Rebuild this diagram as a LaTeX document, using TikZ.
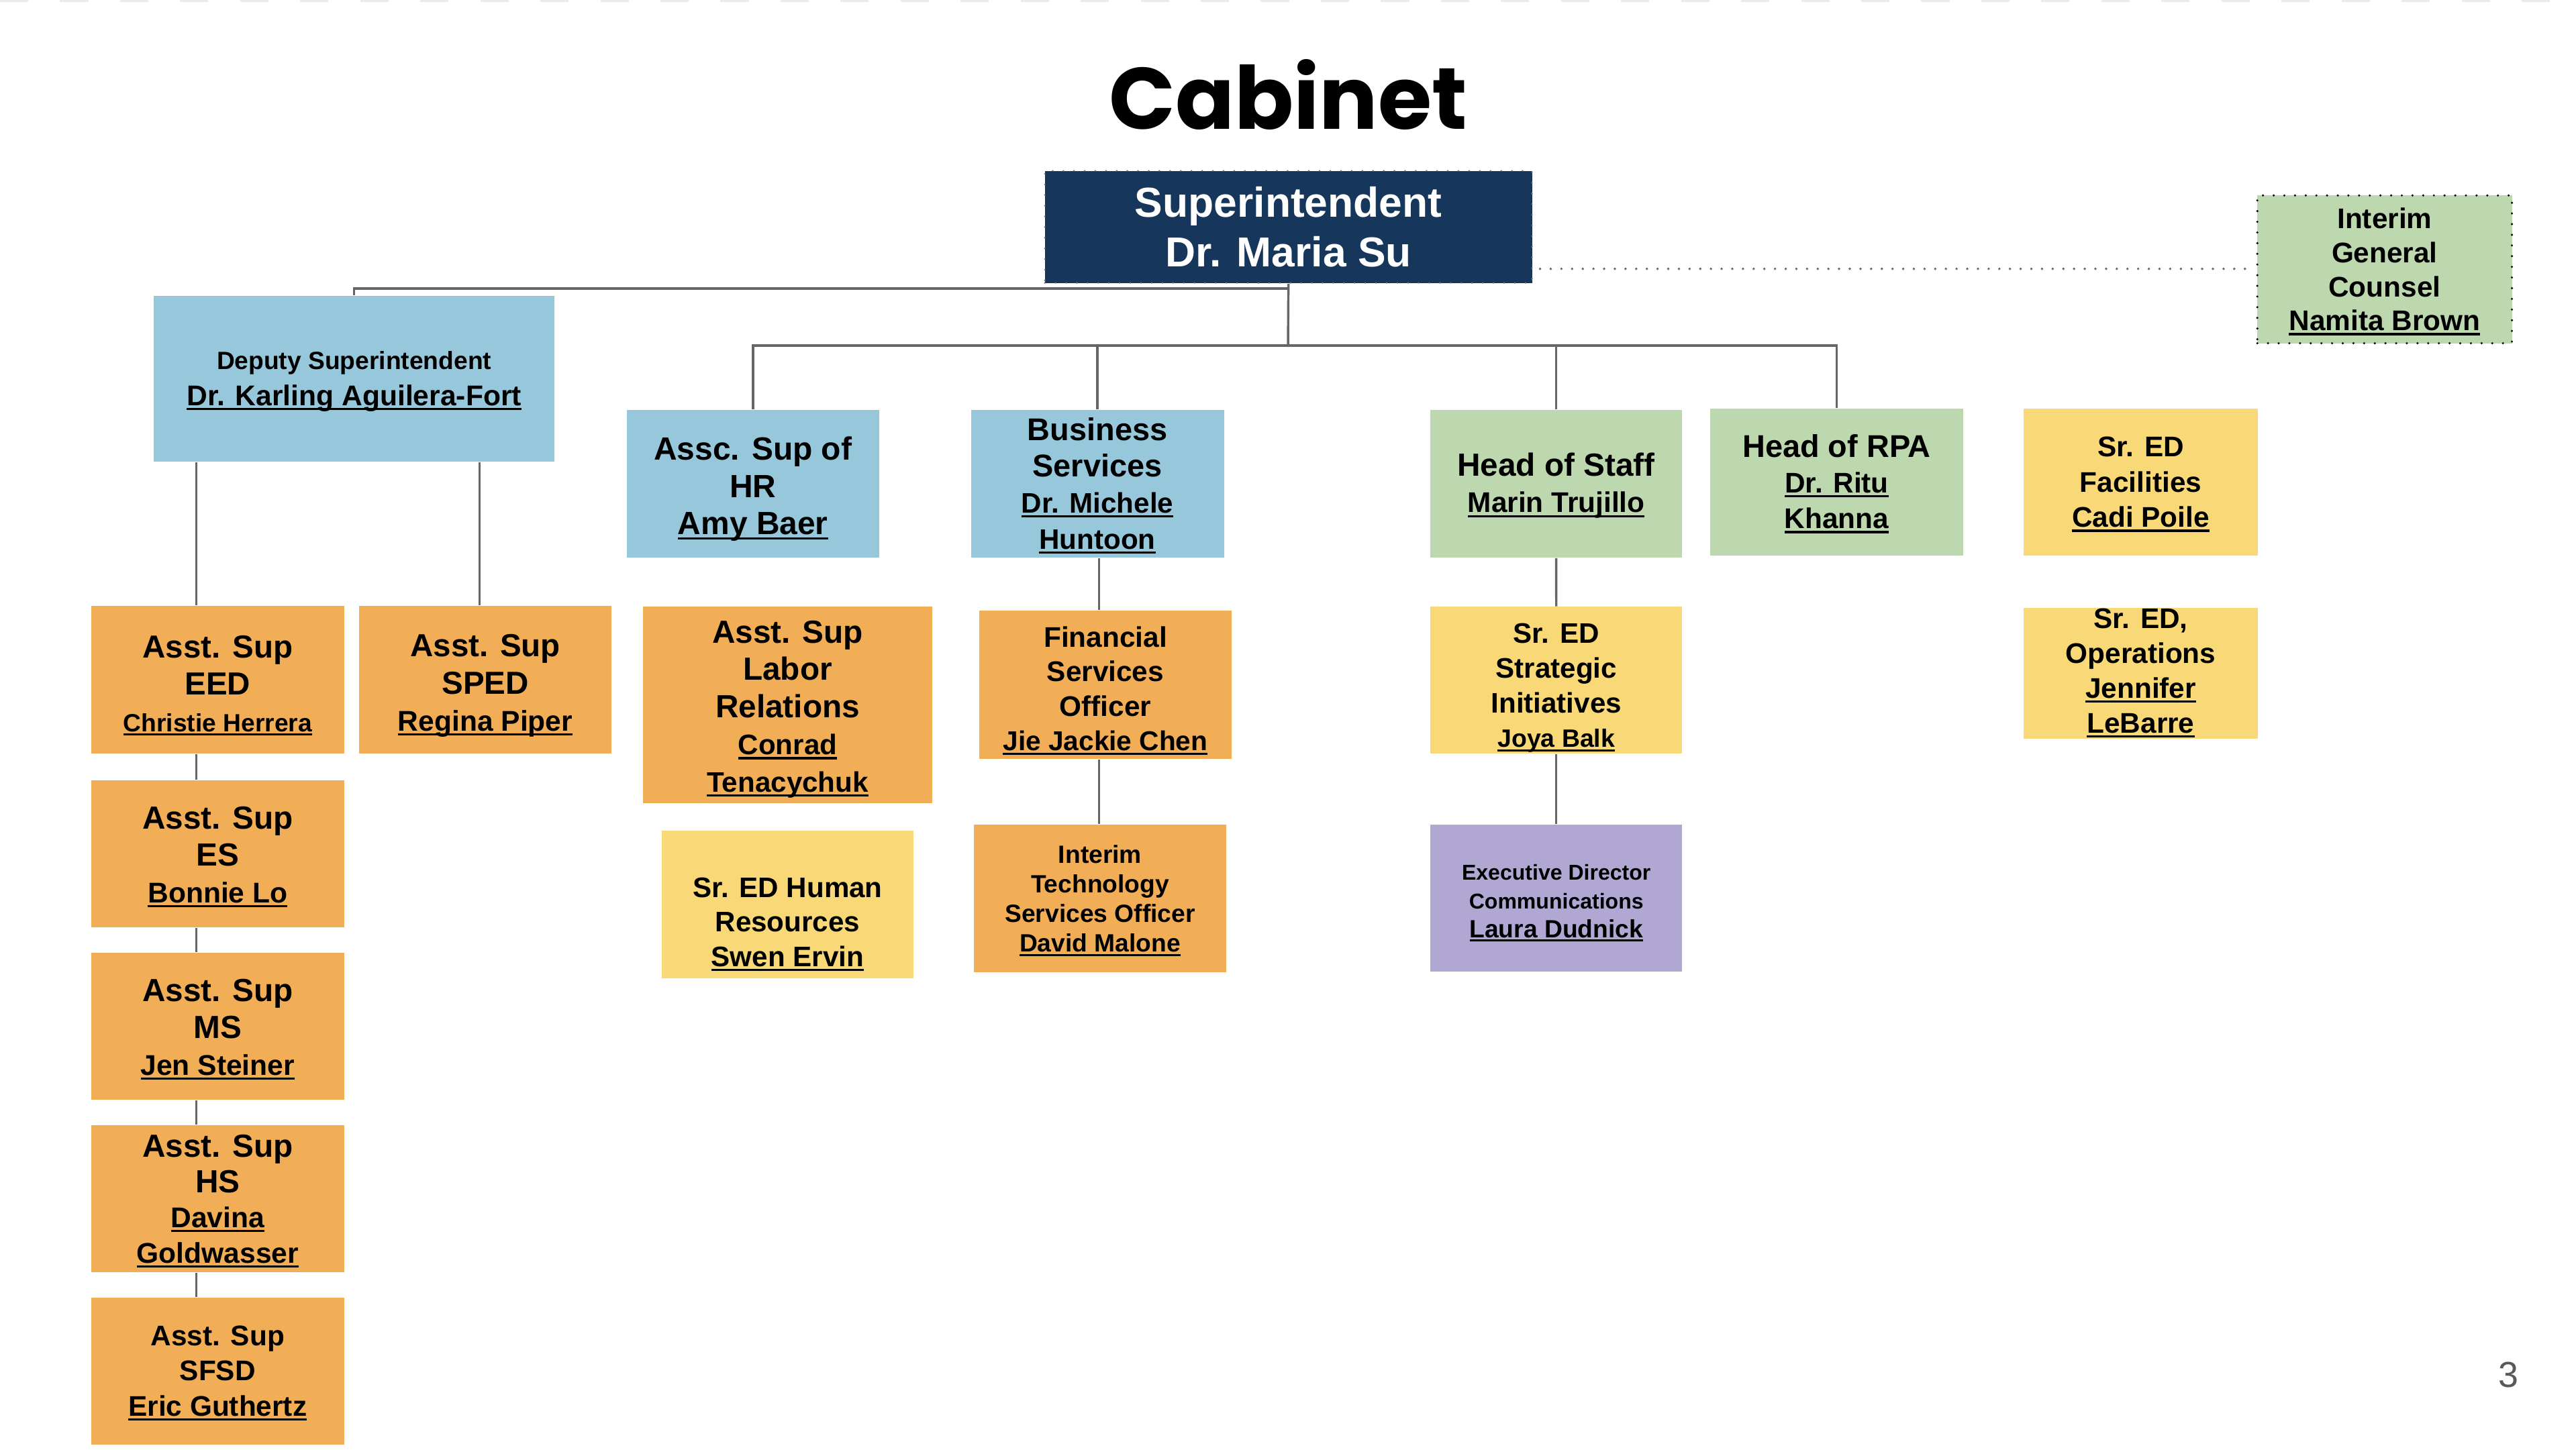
\documentclass[tikz,border=0pt]{standalone}
\usepackage{fontspec}
\setmainfont{Liberation Sans}
\newfontfamily\titlefont{Poppins}
\definecolor{navy}{HTML}{16365C}
\definecolor{lblue}{HTML}{97C7DB}
\definecolor{lgreen}{HTML}{BDD7AE}
\definecolor{orng}{HTML}{F2AE57}
\definecolor{yllw}{HTML}{F8D877}
\definecolor{prpl}{HTML}{B1A7D3}
\definecolor{conncol}{HTML}{666666}
\newcommand{\fsz}[2]{\fontsize{#1pt}{#2pt}\selectfont}
\newsavebox\nmbox
\newcommand{\nm}[1]{\sbox\nmbox{#1}\rlap{\rule[-0.16em]{\wd\nmbox}{0.075em}}\usebox\nmbox}
% #1 name, #2-#5 corners, #6 style, #7 text, #8 top strut (em)
\newcommand{\bx}[8]{\node[#6, minimum width={(#4-#2)*0.02cm}, minimum height={(#5-#3)*0.02cm}] (#1) at ({(#2+#4)/2},{(#3+#5)/2}) {\rule{0pt}{#8em}#7\rule[-0.2em]{0pt}{0pt}};}
\tikzset{
  box/.style={rectangle, inner sep=0pt, align=center, text=black},
  conn/.style={draw=conncol, line width=0.8pt},
  dotconn/.style={draw=conncol, line width=0.9pt, line cap=round, dash pattern=on 0pt off 3.7pt},
}
\begin{document}
\begin{tikzpicture}[x=0.02cm, y=-0.02cm]
\fill[white] (0,0) rectangle (1568,883.7);
\useasboundingbox (0,0) rectangle (1568,883.7);
\draw[black!8, line width=0.9pt, dash pattern=on 9.8pt off 11pt] (0,0.6) -- (1568,0.6);

% title
\node[anchor=base, inner sep=0pt] (title) at (784,78.5) {\titlefont\bfseries\fsz{30.2}{36}Cabinet};

% top level
\bx{sup}{636}{104}{932.5}{172.3}{box, fill=navy, draw=black!55, line width=0.6pt, line cap=round, dash pattern=on 0pt off 3.7pt, text=white, font={\bfseries\fsz{14.5}{17.1}}}{Superintendent\\Dr. Maria Su}{0.92}
\bx{gc}{1374}{119}{1529}{209}{box, fill=lgreen, draw=black, line width=0.8pt, line cap=round, dash pattern=on 0pt off 3.7pt, font={\bfseries\fsz{9.85}{11.8}}}{Interim\\General\\Counsel\\\nm{Namita Brown}}{0.92}

% second level
\bx{dep}{93.6}{180}{337.5}{281}{box, fill=lblue, font={\bfseries\fsz{9.9}{12.5}}}{{\fsz{8.65}{12.5}Deputy Superintendent}\\\nm{Dr. Karling Aguilera-Fort}}{0.85}
\bx{hr}{381.6}{249.6}{535}{339.5}{box, fill=lblue, font={\bfseries\fsz{11.15}{12.9}}}{Assc. Sup of\\HR\\\nm{Amy Baer}}{1.05}
\bx{bus}{591}{249.6}{745}{339.5}{box, fill=lblue, font={\bfseries\fsz{9.8}{12.5}}}{{\fsz{10.9}{12.5}Business}\\{\fsz{10.9}{12.5}Services}\\\nm{Dr. Michele}\\\nm{Huntoon}}{0.98}
\bx{hos}{870.5}{249.6}{1024}{339.5}{box, fill=lgreen, font={\bfseries\fsz{9.85}{12.7}}}{{\fsz{11.1}{12.7}Head of Staff}\\\nm{Marin Trujillo}}{0.95}
\bx{rpa}{1041}{248.8}{1195}{338.4}{box, fill=lgreen, font={\bfseries\fsz{9.85}{12.4}}}{{\fsz{10.9}{12.4}Head of RPA}\\\nm{Dr. Ritu}\\\nm{Khanna}}{0.95}
\bx{fac}{1231.6}{249}{1374.5}{338.4}{box, fill=yllw, font={\bfseries\fsz{9.85}{12.2}}}{Sr. ED\\Facilities\\\nm{Cadi Poile}}{0.88}

% third level
\bx{eed}{55.6}{369}{209.4}{459}{box, fill=orng, font={\bfseries\fsz{11.05}{12.8}}}{Asst. Sup\\EED\\{\fsz{8.65}{12.8}\nm{Christie Herrera}}}{1.12}
\bx{sped}{218.6}{369}{372.2}{459}{box, fill=orng, font={\bfseries\fsz{11.05}{12.8}}}{Asst. Sup\\SPED\\{\fsz{9.9}{12.8}\nm{Regina Piper}}}{1.07}
\bx{lab}{391.5}{369.2}{567.4}{489}{box, fill=orng, font={\bfseries\fsz{11.1}{12.9}}}{Asst. Sup\\Labor\\Relations\\{\fsz{9.8}{12.9}\nm{Conrad}}\\{\fsz{9.8}{12.9}\nm{Tenacychuk}}}{1.0}
\bx{fin}{596}{371.7}{749.7}{462}{box, fill=orng, font={\bfseries\fsz{9.85}{12}}}{Financial\\Services\\Officer\\{\fsz{9.45}{12}\nm{Jie Jackie Chen}}}{1.2}
\bx{sti}{870.6}{369.5}{1024}{459}{box, fill=yllw, font={\bfseries\fsz{9.8}{12}}}{Sr. ED\\Strategic\\Initiatives\\{\fsz{8.7}{12}\nm{Joya Balk}}}{1.26}
\bx{ops}{1231.6}{370}{1374.5}{450}{box, fill=yllw, font={\bfseries\fsz{9.85}{12.1}}}{Sr. ED,\\Operations\\\nm{Jennifer}\\\nm{LeBarre}}{0.7}

% lower levels
\bx{es}{55.6}{475}{209.4}{564.5}{box, fill=orng, font={\bfseries\fsz{11.1}{12.8}}}{Asst. Sup\\ES\\{\fsz{9.9}{12.8}\nm{Bonnie Lo}}}{0.95}
\bx{ms}{55.6}{580}{209.4}{669.5}{box, fill=orng, font={\bfseries\fsz{11.1}{12.8}}}{Asst. Sup\\MS\\{\fsz{9.9}{12.8}\nm{Jen Steiner}}}{0.95}
\bx{hs}{55.6}{685}{209.4}{774.5}{box, fill=orng, font={\bfseries\fsz{11.1}{12.2}}}{Asst. Sup\\HS\\{\fsz{9.9}{12.2}\nm{Davina}}\\{\fsz{9.9}{12.2}\nm{Goldwasser}}}{0.92}
\bx{sfsd}{55.6}{790}{209.4}{879.5}{box, fill=orng, font={\bfseries\fsz{9.85}{12.2}}}{Asst. Sup\\SFSD\\\nm{Eric Guthertz}}{0.88}
\bx{hrs}{402.8}{505.9}{556}{595.5}{box, fill=yllw, font={\bfseries\fsz{9.8}{12}}}{\\Sr. ED Human\\Resources\\\nm{Swen Ervin}}{0.92}
\bx{tech}{592.9}{502}{746.3}{592}{box, fill=orng, font={\bfseries\fsz{8.65}{10.25}}}{Interim\\Technology\\Services Officer\\\nm{David Malone}}{0.95}
\bx{com}{870.6}{502}{1024}{591.5}{box, fill=prpl, font={\bfseries\fsz{8.65}{10}}}{{\fsz{7.45}{10}Executive Director}\\{\fsz{7.45}{10}Communications}\\\nm{Laura Dudnick}}{1.05}

% page number
\node[inner sep=0pt, text=black!65] (pg) at (1527,837) {\fsz{12.5}{14}3};

% helper coordinates
\coordinate (bar) at (784,210.4);
\coordinate (dbar) at (784,175.7);
\coordinate (lcol) at (119.5,0);
\coordinate (scol) at (292,0);
\coordinate (bcol) at (669,0);
\coordinate (dotl) at (0,163.7);

% connectors
\draw[conn] (sup.south) -- (bar);
\draw[conn] (dep.north) |- (dbar);
\draw[conn] (hr.north) |- (bar);
\draw[conn] (bar) -| (rpa.north);
\draw[conn] (bus.north) -- (bus.north |- bar);
\draw[conn] (hos.north) -- (hos.north |- bar);
\draw[conn] (dep.south -| lcol) -- (eed.north -| lcol);
\draw[conn] (dep.south -| scol) -- (sped.north -| scol);
\draw[conn] (eed.south -| lcol) -- (es.north -| lcol);
\draw[conn] (es.south -| lcol) -- (ms.north -| lcol);
\draw[conn] (ms.south -| lcol) -- (hs.north -| lcol);
\draw[conn] (hs.south -| lcol) -- (sfsd.north -| lcol);
\draw[conn] (bus.south -| bcol) -- (fin.north -| bcol);
\draw[conn] (fin.south -| bcol) -- (tech.north -| bcol);
\draw[conn] (hos.south) -- (sti.north);
\draw[conn] (sti.south) -- (com.north);
\draw[dotconn] ([xshift=2.5pt]sup.east |- dotl) -- ([xshift=-3pt]gc.west |- dotl);
\end{tikzpicture}
\end{document}
